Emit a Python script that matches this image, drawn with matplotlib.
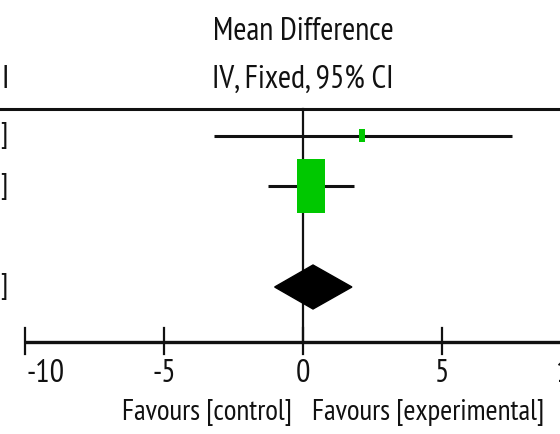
import matplotlib.pyplot as plt
import matplotlib.patches as mpatches
from matplotlib import font_manager
import numpy as np

# study estimates (mean difference, 95% CI, weight %)
md = [2.12, 0.28]
ci_lo = [-3.20, -1.27]
ci_hi = [7.52, 1.83]
weight = [4.7, 95.3]
pooled = (0.36, -1.02, 1.76)
ticks = [-10, -5, 0, 5, 10]
tick_labels = ['-10', '-5', '0', '5', '10']

names = {f.name for f in font_manager.fontManager.ttflist}
fam = next((f for f in ['PT Sans Narrow', 'Fira Sans Extra Condensed', 'Open Sans Condensed']
            if f in names), 'DejaVu Sans')
plt.rcParams['font.family'] = [fam, 'DejaVu Sans']

W, H = 560, 434
fig = plt.figure(figsize=(5.6, 4.34), dpi=100)
ax = fig.add_axes([0, 0, 1, 1])
ppu = 27.8          # pixels per unit
x0 = 303            # pixel of zero
ax.set_xlim(-x0 / ppu, (W - x0) / ppu)
ax.set_ylim(H, 0)
ax.axis('off')

row_y = [135.5, 186]
diam_y = 287
head_y = 109
axis_y = 342
ink = '#111111'
fs = 23
left = -x0 / ppu

# header
ax.text(0, 32, 'Mean Difference', ha='center', va='center', fontsize=fs, color=ink)
ax.text(0, 80, 'IV, Fixed, 95% CI', ha='center', va='center', fontsize=fs, color=ink)
ax.text(left + 1 / ppu, 80, 'I', ha='left', va='center', fontsize=fs, color=ink)
ax.axhline(head_y, color=ink, lw=2.2)

# zero line
ax.plot([0, 0], [head_y, axis_y], color=ink, lw=1.6)

# studies
for i in range(len(md)):
    y = row_y[i]
    ax.plot([ci_lo[i], ci_hi[i]], [y, y], color=ink, lw=2.2, solid_capstyle='butt')
    wpx = 28.5 * np.sqrt(weight[i] / max(weight))
    hpx = wpx * 1.9
    ax.add_patch(mpatches.Rectangle((md[i] - wpx / 2 / ppu, y - hpx / 2), wpx / ppu, hpx,
                                    facecolor='#00c800', edgecolor='none', zorder=3))
    ax.text(left + 0.5 / ppu, y, ']', ha='left', va='center', fontsize=fs - 2, color=ink)

# pooled diamond
pm, pl, ph = pooled
ax.add_patch(mpatches.Polygon([(pl, diam_y), (pm, diam_y - 22), (ph, diam_y), (pm, diam_y + 22)],
                              closed=True, facecolor='black', edgecolor='black', zorder=3))
ax.text(left + 0.5 / ppu, diam_y, ']', ha='left', va='center', fontsize=fs - 2, color=ink)

# axis
ax.plot([ticks[0], ticks[-1]], [axis_y, axis_y], color=ink, lw=2.4, solid_capstyle='butt')
for t, lab in zip(ticks, tick_labels):
    ax.plot([t, t], [axis_y - 14, axis_y + 12], color=ink, lw=1.6)
    if t == ticks[0]:
        ax.text(t + 1 / ppu, 374, lab, ha='left', va='center', fontsize=fs, color=ink)
    elif t == ticks[-1]:
        ax.text(t - 26 / ppu, 374, lab, ha='left', va='center', fontsize=fs, color=ink)
    else:
        ax.text(t, 374, lab, ha='center', va='center', fontsize=fs, color=ink)

ax.text(-11 / ppu, 412, 'Favours [control]', ha='right', va='center', fontsize=21, color=ink)
ax.text(9 / ppu, 412, 'Favours [experimental]', ha='left', va='center', fontsize=21, color=ink)

fig.savefig('out.png', dpi=100)
